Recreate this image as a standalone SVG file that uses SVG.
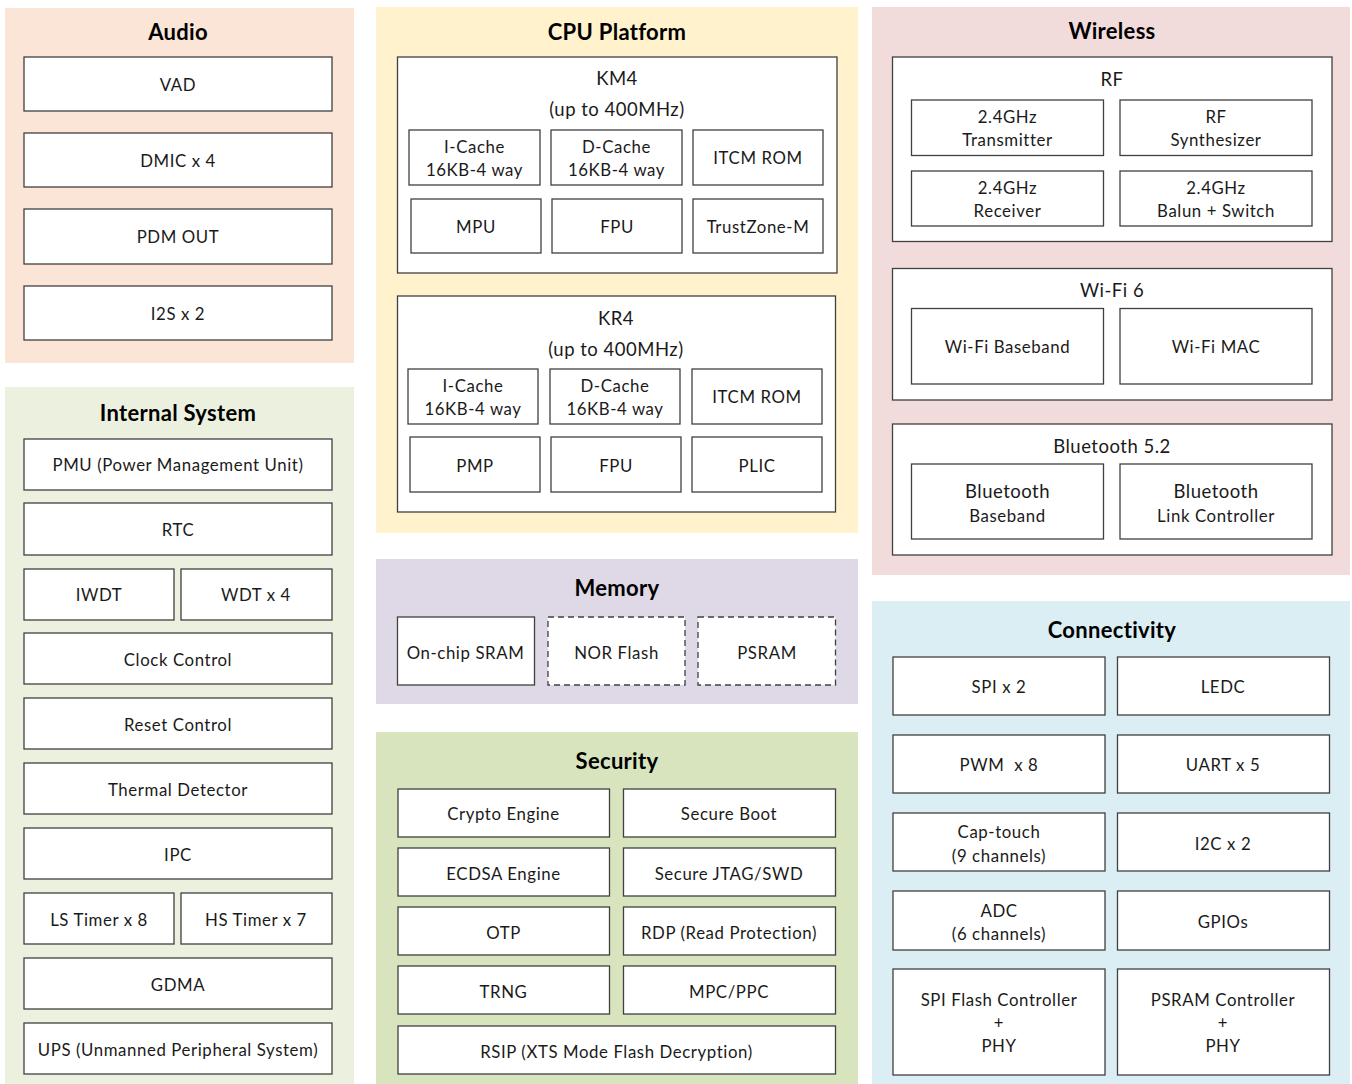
<svg xmlns="http://www.w3.org/2000/svg" width="1352" height="1084" viewBox="0 0 1352 1084">
<style>
.bg{fill:#ffffff}
.panel{stroke:none}
.box{fill:#ffffff;stroke:#404040;stroke-width:1.3}
.dash{fill:#ffffff;stroke:#404040;stroke-width:1.3;stroke-dasharray:6 4}
text{font-family:Lato,"Noto Sans","Liberation Sans",sans-serif;fill:#1a1a1a;text-anchor:middle;transform:translateY(1.5px)}
.t{font-size:16.8px;letter-spacing:0.6px}
.m{font-size:18.5px;letter-spacing:0.5px}
.h{font-size:22px;font-weight:bold;fill:#000000;letter-spacing:0.3px}
</style>
<rect class="bg" x="0" y="0" width="1352" height="1084"/>

<!-- Audio -->
<g id="audio">
<rect class="panel" x="5" y="8" width="349" height="355" fill="#FBE5D6"/>
<text class="h" x="178" y="38.5">Audio</text>
</g>
<g id="vad"><rect class="box" x="24" y="57" width="308" height="54"/><text class="t" x="178" y="89.5">VAD</text></g>
<g id="dmic"><rect class="box" x="24" y="133" width="308" height="54"/><text class="t" x="178" y="165.5">DMIC x 4</text></g>
<g id="pdm"><rect class="box" x="24" y="209" width="308" height="55"/><text class="t" x="178" y="241.5">PDM OUT</text></g>
<g id="i2s"><rect class="box" x="24" y="286" width="308" height="54"/><text class="t" x="178" y="318.5">I2S x 2</text></g>

<!-- Internal System -->
<g id="internal">
<rect class="panel" x="5" y="387" width="349" height="697" fill="#EBF1DE"/>
<text class="h" x="178" y="419.5">Internal System</text>
</g>
<g id="pmu"><rect class="box" x="24" y="439" width="308" height="51"/><text class="t" x="178" y="469.5">PMU (Power Management Unit)</text></g>
<g id="rtc"><rect class="box" x="24" y="503" width="308" height="52"/><text class="t" x="178" y="534.5">RTC</text></g>
<g id="iwdt"><rect class="box" x="24" y="569" width="150" height="51"/><text class="t" x="99" y="599.5">IWDT</text></g>
<g id="wdt"><rect class="box" x="181" y="569" width="151" height="51"/><text class="t" x="256" y="599.5">WDT x 4</text></g>
<g id="clock"><rect class="box" x="24" y="633" width="308" height="51"/><text class="t" x="178" y="664.5">Clock Control</text></g>
<g id="reset"><rect class="box" x="24" y="698" width="308" height="51"/><text class="t" x="178" y="729.5">Reset Control</text></g>
<g id="thermal"><rect class="box" x="24" y="763" width="308" height="51"/><text class="t" x="178" y="794.5">Thermal Detector</text></g>
<g id="ipc"><rect class="box" x="24" y="828" width="308" height="51"/><text class="t" x="178" y="859.5">IPC</text></g>
<g id="lstimer"><rect class="box" x="24" y="893" width="150" height="51"/><text class="t" x="99" y="924.5">LS Timer x 8</text></g>
<g id="hstimer"><rect class="box" x="181" y="893" width="151" height="51"/><text class="t" x="256" y="924.5">HS Timer x 7</text></g>
<g id="gdma"><rect class="box" x="24" y="958" width="308" height="51"/><text class="t" x="178" y="989.5">GDMA</text></g>
<g id="ups"><rect class="box" x="24" y="1023" width="308" height="51"/><text class="t" x="178" y="1054.5">UPS (Unmanned Peripheral System)</text></g>

<!-- CPU Platform -->
<g id="cpu">
<rect class="panel" x="376" y="7" width="482" height="526" fill="#FFF2CC"/>
<text class="h" x="617" y="38.5">CPU Platform</text>
</g>
<g id="km4"><rect class="box" x="397.5" y="57" width="439.5" height="216"/><text class="m" x="617" y="83.5">KM4</text><text class="m" x="617" y="114.5">(up to 400MHz)</text></g>
<g id="km4-icache"><rect class="box" x="409" y="130" width="131" height="55"/><text class="t" x="474.5" y="151.5">I-Cache</text><text class="t" x="474.5" y="174.5">16KB-4 way</text></g>
<g id="km4-dcache"><rect class="box" x="551" y="130" width="131" height="55"/><text class="t" x="616.5" y="151.5">D-Cache</text><text class="t" x="616.5" y="174.5">16KB-4 way</text></g>
<g id="km4-itcm"><rect class="box" x="693" y="130" width="130" height="55"/><text class="t" x="758" y="162.5">ITCM ROM</text></g>
<g id="km4-mpu"><rect class="box" x="411" y="199" width="130" height="54"/><text class="t" x="476" y="231.5">MPU</text></g>
<g id="km4-fpu"><rect class="box" x="552" y="199" width="130" height="54"/><text class="t" x="617" y="231.5">FPU</text></g>
<g id="km4-tz"><rect class="box" x="693" y="199" width="130" height="54"/><text class="t" x="758" y="231.5">TrustZone-M</text></g>

<g id="kr4"><rect class="box" x="397.5" y="296" width="438" height="216"/><text class="m" x="616" y="323.5">KR4</text><text class="m" x="616" y="354.5">(up to 400MHz)</text></g>
<g id="kr4-icache"><rect class="box" x="408" y="369" width="130" height="55"/><text class="t" x="473" y="390.5">I-Cache</text><text class="t" x="473" y="413.5">16KB-4 way</text></g>
<g id="kr4-dcache"><rect class="box" x="550" y="369" width="130" height="55"/><text class="t" x="615" y="390.5">D-Cache</text><text class="t" x="615" y="413.5">16KB-4 way</text></g>
<g id="kr4-itcm"><rect class="box" x="692" y="369" width="130" height="55"/><text class="t" x="757" y="401.5">ITCM ROM</text></g>
<g id="kr4-pmp"><rect class="box" x="410" y="437" width="130" height="55"/><text class="t" x="475" y="470.5">PMP</text></g>
<g id="kr4-fpu"><rect class="box" x="551" y="437" width="130" height="55"/><text class="t" x="616" y="470.5">FPU</text></g>
<g id="kr4-plic"><rect class="box" x="692" y="437" width="130" height="55"/><text class="t" x="757" y="470.5">PLIC</text></g>

<!-- Memory -->
<g id="memory">
<rect class="panel" x="376" y="559" width="482" height="145" fill="#DFD8E7"/>
<text class="h" x="617" y="594.5">Memory</text>
</g>
<g id="sram"><rect class="box" x="397.5" y="617" width="137" height="68"/><text class="t" x="465.5" y="657.5">On-chip SRAM</text></g>
<g id="nor"><rect class="dash" x="548" y="617" width="137" height="68"/><text class="t" x="616.5" y="657.5">NOR Flash</text></g>
<g id="psram"><rect class="dash" x="698" y="617" width="137.5" height="68"/><text class="t" x="767" y="657.5">PSRAM</text></g>

<!-- Security -->
<g id="security">
<rect class="panel" x="376" y="732" width="482" height="352" fill="#D7E4BD"/>
<text class="h" x="617" y="767.5">Security</text>
</g>
<g id="crypto"><rect class="box" x="398" y="789" width="211.5" height="48"/><text class="t" x="503.5" y="818.5">Crypto Engine</text></g>
<g id="secboot"><rect class="box" x="623.5" y="789" width="212" height="48"/><text class="t" x="729" y="818.5">Secure Boot</text></g>
<g id="ecdsa"><rect class="box" x="398" y="848" width="211.5" height="48"/><text class="t" x="503.5" y="878.5">ECDSA Engine</text></g>
<g id="jtag"><rect class="box" x="623.5" y="848" width="212" height="48"/><text class="t" x="729" y="878.5">Secure JTAG/SWD</text></g>
<g id="otp"><rect class="box" x="398" y="907" width="211.5" height="48"/><text class="t" x="503.5" y="937.5">OTP</text></g>
<g id="rdp"><rect class="box" x="623.5" y="907" width="212" height="48"/><text class="t" x="729" y="937.5">RDP (Read Protection)</text></g>
<g id="trng"><rect class="box" x="398" y="966" width="211.5" height="48"/><text class="t" x="503.5" y="996.5">TRNG</text></g>
<g id="mpc"><rect class="box" x="623.5" y="966" width="212" height="48"/><text class="t" x="729" y="996.5">MPC/PPC</text></g>
<g id="rsip"><rect class="box" x="398" y="1026" width="437.5" height="48"/><text class="t" x="616.5" y="1056.5">RSIP (XTS Mode Flash Decryption)</text></g>

<!-- Wireless -->
<g id="wireless">
<rect class="panel" x="872" y="7" width="478" height="568" fill="#F2DCDB"/>
<text class="h" x="1112" y="37.5">Wireless</text>
</g>
<g id="rf"><rect class="box" x="892.5" y="57" width="439.5" height="184.5"/><text class="m" x="1112" y="84.5">RF</text></g>
<g id="tx"><rect class="box" x="911.5" y="100" width="192" height="55.5"/><text class="t" x="1007.5" y="121.5">2.4GHz</text><text class="t" x="1007.5" y="144.5">Transmitter</text></g>
<g id="synth"><rect class="box" x="1120" y="100" width="192" height="55.5"/><text class="t" x="1216" y="121.5">RF</text><text class="t" x="1216" y="144.5">Synthesizer</text></g>
<g id="rx"><rect class="box" x="911.5" y="171" width="192" height="55"/><text class="t" x="1007.5" y="192.5">2.4GHz</text><text class="t" x="1007.5" y="215.5">Receiver</text></g>
<g id="balun"><rect class="box" x="1120" y="171" width="192" height="55"/><text class="t" x="1216" y="192.5">2.4GHz</text><text class="t" x="1216" y="215.5">Balun + Switch</text></g>

<g id="wifi"><rect class="box" x="892.5" y="268.5" width="439.5" height="131.5"/><text class="m" x="1112" y="295.5">Wi-Fi 6</text></g>
<g id="wifi-bb"><rect class="box" x="911.5" y="308.5" width="192" height="75.5"/><text class="t" x="1007.5" y="351.5">Wi-Fi Baseband</text></g>
<g id="wifi-mac"><rect class="box" x="1120" y="308.5" width="192" height="75.5"/><text class="t" x="1216" y="351.5">Wi-Fi MAC</text></g>

<g id="bt"><rect class="box" x="892.5" y="424" width="439.5" height="131"/><text class="m" x="1112" y="451.5">Bluetooth 5.2</text></g>
<g id="bt-bb"><rect class="box" x="911.5" y="464" width="192" height="75"/><text class="m" x="1007.5" y="496.5">Bluetooth</text><text class="t" x="1007.5" y="520.5">Baseband</text></g>
<g id="bt-lc"><rect class="box" x="1120" y="464" width="192" height="75"/><text class="m" x="1216" y="496.5">Bluetooth</text><text class="t" x="1216" y="520.5">Link Controller</text></g>

<!-- Connectivity -->
<g id="connectivity">
<rect class="panel" x="872" y="601" width="478" height="483" fill="#DAEEF3"/>
<text class="h" x="1112" y="636.5">Connectivity</text>
</g>
<g id="spi"><rect class="box" x="893" y="657" width="212" height="58"/><text class="t" x="999" y="691.5">SPI x 2</text></g>
<g id="ledc"><rect class="box" x="1117.5" y="657" width="212" height="58"/><text class="t" x="1223" y="691.5">LEDC</text></g>
<g id="pwm"><rect class="box" x="893" y="735" width="212" height="58"/><text class="t" x="999" y="769.5" xml:space="preserve">PWM  x 8</text></g>
<g id="uart"><rect class="box" x="1117.5" y="735" width="212" height="58"/><text class="t" x="1223" y="769.5">UART x 5</text></g>
<g id="captouch"><rect class="box" x="893" y="813" width="212" height="58"/><text class="t" x="999" y="836.5">Cap-touch</text><text class="t" x="999" y="860.5">(9 channels)</text></g>
<g id="i2c"><rect class="box" x="1117.5" y="813" width="212" height="58"/><text class="t" x="1223" y="848.5">I2C x 2</text></g>
<g id="adc"><rect class="box" x="893" y="891" width="212" height="59"/><text class="t" x="999" y="915.5">ADC</text><text class="t" x="999" y="938.5">(6 channels)</text></g>
<g id="gpio"><rect class="box" x="1117.5" y="891" width="212" height="59"/><text class="t" x="1223" y="926.5">GPIOs</text></g>
<g id="spiflash"><rect class="box" x="893" y="969" width="212" height="106"/><text class="t" x="999" y="1004.5">SPI Flash Controller</text><text class="t" x="999" y="1027.5">+</text><text class="t" x="999" y="1050.5">PHY</text></g>
<g id="psramctl"><rect class="box" x="1117.5" y="969" width="212" height="106"/><text class="t" x="1223" y="1004.5">PSRAM Controller</text><text class="t" x="1223" y="1027.5">+</text><text class="t" x="1223" y="1050.5">PHY</text></g>

<g id="connectors"></g>
</svg>
